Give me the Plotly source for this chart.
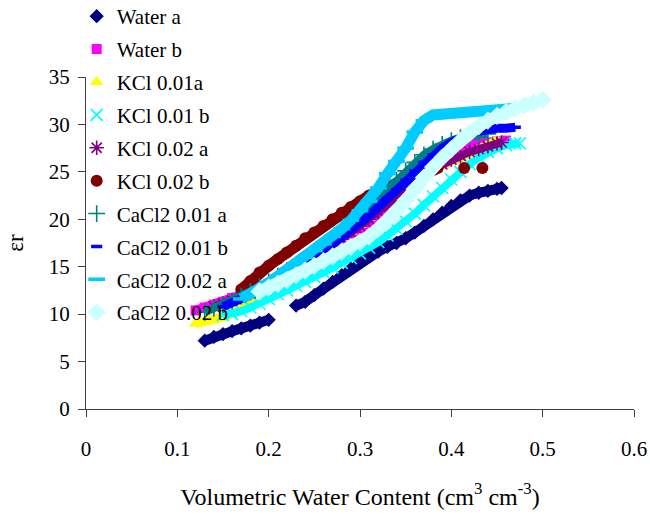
import plotly.graph_objects as go

# ---------------- data ----------------
names = ["Water a", "Water b", "KCl 0.01a", "KCl 0.01 b", "KCl 0.02 a",
         "KCl 0.02 b", "CaCl2 0.01 a", "CaCl2 0.01 b", "CaCl2 0.02 a", "CaCl2 0.02 b"]

water_a_x = [0.13, 0.14, 0.15, 0.16, 0.17, 0.18, 0.19, 0.20, None,
             0.23, 0.24, 0.25, 0.26, 0.27, 0.28, 0.29, 0.30, 0.31, 0.32, 0.33, 0.34,
             0.35, 0.36, 0.37, 0.38, 0.39, 0.40, 0.41, 0.42, 0.43, 0.44, 0.45, 0.455]
water_a_y = [7.2, 7.6, 7.9, 8.2, 8.5, 8.8, 9.1, 9.4, None,
             10.9, 11.3, 12.0, 12.7, 13.4, 14.1, 14.8, 15.5, 16.1, 16.6, 17.1, 17.5,
             18.0, 18.6, 19.3, 20.0, 20.7, 21.4, 22.0, 22.5, 22.8, 23.0, 23.2, 23.3]

water_b_x = [0.12, 0.13, 0.14, 0.15, 0.16, 0.17, 0.18, 0.19, 0.20, 0.21, 0.22, 0.23,
             0.24, 0.25, 0.26, 0.27, 0.28, 0.29, 0.30, 0.31, 0.32, 0.33, 0.34, 0.35,
             0.36, 0.37, 0.38, 0.39, 0.40, 0.41, 0.42, 0.43, 0.44, 0.45, 0.46]
water_b_y = [10.4, 10.7, 11.0, 11.3, 11.7, 12.0, 12.4, 12.8, 13.2, 13.6, 14.0, 14.5,
             15.0, 15.5, 16.0, 16.6, 17.2, 17.9, 18.6, 19.4, 20.3, 21.3, 22.4, 23.5,
             24.6, 25.6, 26.4, 26.9, 27.3, 27.6, 27.8, 28.0, 28.1, 28.2, 28.3]

kcl001a_x = [0.12, 0.13, 0.14, 0.15, 0.16, 0.17, 0.18, 0.19, 0.20, 0.21, 0.22, 0.23,
             0.24, 0.25, 0.26, 0.27, 0.28, 0.29, 0.30, 0.31, 0.32, 0.33, 0.34, 0.35,
             0.36, 0.37, 0.38, 0.39, 0.40, 0.41, 0.42, 0.43, 0.44, 0.45]
kcl001a_y = [9.0, 9.2, 9.4, 9.7, 10.1, 10.6, 11.2, 11.8, 12.5, 13.2, 13.9, 14.6,
             15.3, 16.0, 16.6, 17.3, 18.0, 18.7, 19.4, 20.2, 21.0, 21.8, 22.7, 23.5,
             24.2, 24.8, 25.3, 25.7, 26.1, 26.5, 26.9, 27.3, 27.8, 28.3]

kcl001b_x = [0.15, 0.16, 0.17, 0.18, 0.19, 0.20, 0.21, 0.22, 0.23, 0.24, 0.25, 0.26,
             0.27, 0.28, 0.29, 0.30, 0.31, 0.32, 0.33, 0.34, 0.35, 0.36, 0.37, 0.38,
             0.39, 0.40, 0.41, 0.42, 0.43, 0.44, 0.45, 0.46, 0.47, 0.475]
kcl001b_y = [9.9, 10.0, 10.3, 10.7, 11.1, 11.6, 12.1, 12.5, 13.0, 13.4, 13.9, 14.4,
             14.9, 15.4, 15.9, 16.4, 17.0, 17.6, 18.3, 19.0, 19.8, 20.6, 21.5, 22.4,
             23.3, 24.2, 25.0, 25.8, 26.5, 27.1, 27.5, 27.8, 28.0, 28.0]

kcl002a_x = [0.14, 0.15, 0.16, 0.17, 0.18, 0.19, 0.20, 0.21, 0.22, 0.23, 0.24, 0.25,
             0.26, 0.27, 0.28, 0.29, 0.30, 0.31, 0.32, 0.33, 0.34, 0.35, 0.36, 0.37,
             0.38, 0.39, 0.40, 0.41, 0.42, 0.43, 0.44, 0.45, 0.455]
kcl002a_y = [10.8, 11.1, 11.4, 11.8, 12.2, 12.6, 13.1, 13.6, 14.2, 14.8, 15.4, 16.0,
             16.6, 17.2, 17.9, 18.6, 19.3, 20.0, 20.8, 21.6, 22.4, 23.2, 24.0, 24.7,
             25.3, 25.8, 26.3, 26.7, 27.1, 27.4, 27.7, 28.0, 28.1]

kcl002b_x = [0.17, 0.18, 0.19, 0.20, 0.21, 0.22, 0.23, 0.24, 0.25, 0.26, 0.27, 0.28,
             0.29, 0.30, 0.31, 0.32, 0.33, 0.34, 0.35, 0.36, 0.37, 0.38, 0.385, None,
             0.414, None, 0.434]
kcl002b_y = [12.6, 13.5, 14.4, 15.1, 15.8, 16.5, 17.2, 18.0, 18.6, 19.3, 20.0, 20.7,
             21.3, 21.9, 22.5, 23.0, 23.4, 23.8, 24.2, 24.6, 24.9, 25.2, 25.4, None,
             25.4, None, 25.4]

cacl001a_x = [0.13, 0.14, 0.15, 0.16, 0.17, 0.18, 0.19, 0.20, 0.21, 0.22, 0.23, 0.24,
              0.25, 0.26, 0.27, 0.28, 0.29, 0.30, 0.31, 0.32, 0.33, 0.34, 0.35, 0.36,
              0.37, 0.38, 0.39, 0.40, 0.41, 0.42, 0.43, 0.44]
cacl001a_y = [10.2, 10.6, 11.0, 11.4, 11.9, 12.4, 12.9, 13.4, 14.0, 14.6, 15.2, 15.8,
              16.5, 17.2, 17.9, 18.7, 19.5, 20.3, 21.2, 22.1, 23.1, 24.1, 25.1, 26.0,
              26.8, 27.4, 27.9, 28.3, 28.6, 28.8, 28.9, 29.0]

cacl001b_x = [0.15, 0.16, 0.17, 0.18, 0.19, 0.20, 0.21, 0.22, 0.23, 0.24, 0.25, 0.26,
              0.27, 0.28, 0.29, 0.30, 0.31, 0.32, 0.33, 0.34, 0.35, 0.36, 0.37, 0.38,
              0.39, 0.40, 0.41, 0.42, 0.43, 0.44, 0.45, 0.46, 0.47]
cacl001b_y = [10.8, 11.2, 11.6, 12.0, 12.4, 12.9, 13.5, 14.1, 14.7, 15.3, 16.0, 16.7,
              17.4, 18.1, 18.8, 19.6, 20.4, 21.3, 22.2, 23.1, 24.1, 25.1, 26.0, 26.8,
              27.5, 28.1, 28.6, 29.0, 29.3, 29.5, 29.6, 29.6, 29.7]

cacl002a_x = [0.17, 0.18, 0.19, 0.20, 0.21, 0.22, 0.23, 0.24, 0.25, 0.26, 0.27, 0.28,
              0.29, 0.30, 0.31, 0.32, 0.33, 0.34, 0.35, 0.36, 0.37, 0.38, 0.39, 0.40,
              0.41, 0.42, 0.43, 0.44, 0.45, 0.46, 0.47]
cacl002a_y = [11.6, 12.1, 12.7, 13.3, 14.0, 14.7, 15.3, 16.0, 16.7, 17.4, 18.2, 19.0,
              19.9, 20.9, 21.9, 23.3, 24.8, 26.1, 27.5, 29.2, 30.4, 31.0, 31.1, 31.2,
              31.2, 31.3, 31.3, 31.4, 31.5, 31.6, 31.7]

cacl002b_x = [0.19, 0.20, 0.21, 0.22, 0.23, 0.24, 0.25, 0.26, 0.27,
              0.28, 0.29, 0.30, 0.31, 0.32, 0.33, 0.34, 0.35, 0.36, 0.37, 0.38, 0.39,
              0.40, 0.41, 0.42, 0.43, 0.44, 0.45, 0.46, 0.47, 0.48, 0.49, 0.50]
cacl002b_y = [12.4, 12.8, 13.2, 13.6, 14.1, 14.6, 15.1, 15.6, 16.1,
              16.6, 17.1, 17.6, 18.2, 19.0, 19.9, 20.9, 22.0, 23.2, 24.4, 25.5, 26.5,
              27.4, 28.3, 29.1, 29.8, 30.4, 30.9, 31.3, 31.7, 32.0, 32.3, 32.6]

xs = [water_a_x, water_b_x, kcl001a_x, kcl001b_x, kcl002a_x,
      kcl002b_x, cacl001a_x, cacl001b_x, cacl002a_x, cacl002b_x]
ys = [water_a_y, water_b_y, kcl001a_y, kcl001b_y, kcl002a_y,
      kcl002b_y, cacl001a_y, cacl001b_y, cacl002a_y, cacl002b_y]

x_ticks = [0, 0.1, 0.2, 0.3, 0.4, 0.5, 0.6]
y_ticks = [0, 5, 10, 15, 20, 25, 30, 35]

# ---------------- styles ----------------
styles = [
    dict(color="#000080", symbol="diamond", size=11, lw=0, band=10),
    dict(color="#FF00FF", symbol="square", size=10, lw=0, band=9),
    dict(color="#FFFF00", symbol="triangle-up", size=12, lw=0, band=9),
    dict(color="#00FFFF", symbol="x-thin", size=12, lw=1.6, band=8),
    dict(color="#800080", symbol="asterisk", size=12, lw=1.6, band=8),
    dict(color="#800000", symbol="circle", size=12, lw=0, band=11),
    dict(color="#008080", symbol="cross-thin", size=12, lw=1.6, band=8),
    dict(color="#0000FF", symbol="line-ew", size=8, lw=3.5, band=9),
    dict(color="#00CCFF", symbol="line-ew", size=12, lw=3.5, band=11),
    dict(color="#CCFFFF", symbol="diamond", size=14, lw=0, band=12),
]

SERIF = "Liberation Serif"
FS = 21
fig = go.Figure()
for i, (nm, x, y, st) in enumerate(zip(names, xs, ys, styles)):
    # dense marker band underlay
    fig.add_trace(go.Scatter(
        x=x, y=y, mode="lines", showlegend=False, hoverinfo="skip",
        line=dict(color=st["color"], width=st["band"]), legendgroup=f"g{i}"))
    fig.add_trace(go.Scatter(
        x=x, y=y, mode="markers", name=nm, legendgroup=f"g{i}",
        marker=dict(symbol=st["symbol"], size=st["size"], color=st["color"],
                    line=dict(color=st["color"], width=st["lw"]))))

axis_common = dict(showgrid=False, zeroline=False, showline=True,
                   linecolor="#404040", linewidth=1, ticks="outside",
                   ticklen=7, tickcolor="#404040", tickwidth=1,
                   tickfont=dict(family=SERIF, size=FS, color="black"))

fig.update_layout(
    width=650, height=521,
    margin=dict(l=86, r=16, t=77, b=112, autoexpand=False),
    paper_bgcolor="white", plot_bgcolor="white",
    font=dict(family=SERIF, color="black"),
    xaxis=dict(range=[0, 0.6], tickvals=x_ticks, ticktext=[str(v) for v in x_ticks],
               ticklabelstandoff=14,
               title=dict(text="Volumetric Water Content (cm<sup>3</sup> cm<sup>-3</sup>)",
                          font=dict(family=SERIF, size=24), standoff=27),
               **axis_common),
    yaxis=dict(range=[0, 35], tickvals=y_ticks, ticktext=[str(v) for v in y_ticks],
               ticklabelstandoff=4,
               title=dict(text="εr", font=dict(family=SERIF, size=23), standoff=18),
               **axis_common),
    legend=dict(x=-0.017, xref="paper", y=1.244, yref="paper", yanchor="top",
                font=dict(family=SERIF, size=FS), bgcolor="rgba(0,0,0,0)",
                tracegroupgap=2.6, itemsizing="trace", maxheight=1),
    showlegend=True,
)

fig.write_html("out.html")
